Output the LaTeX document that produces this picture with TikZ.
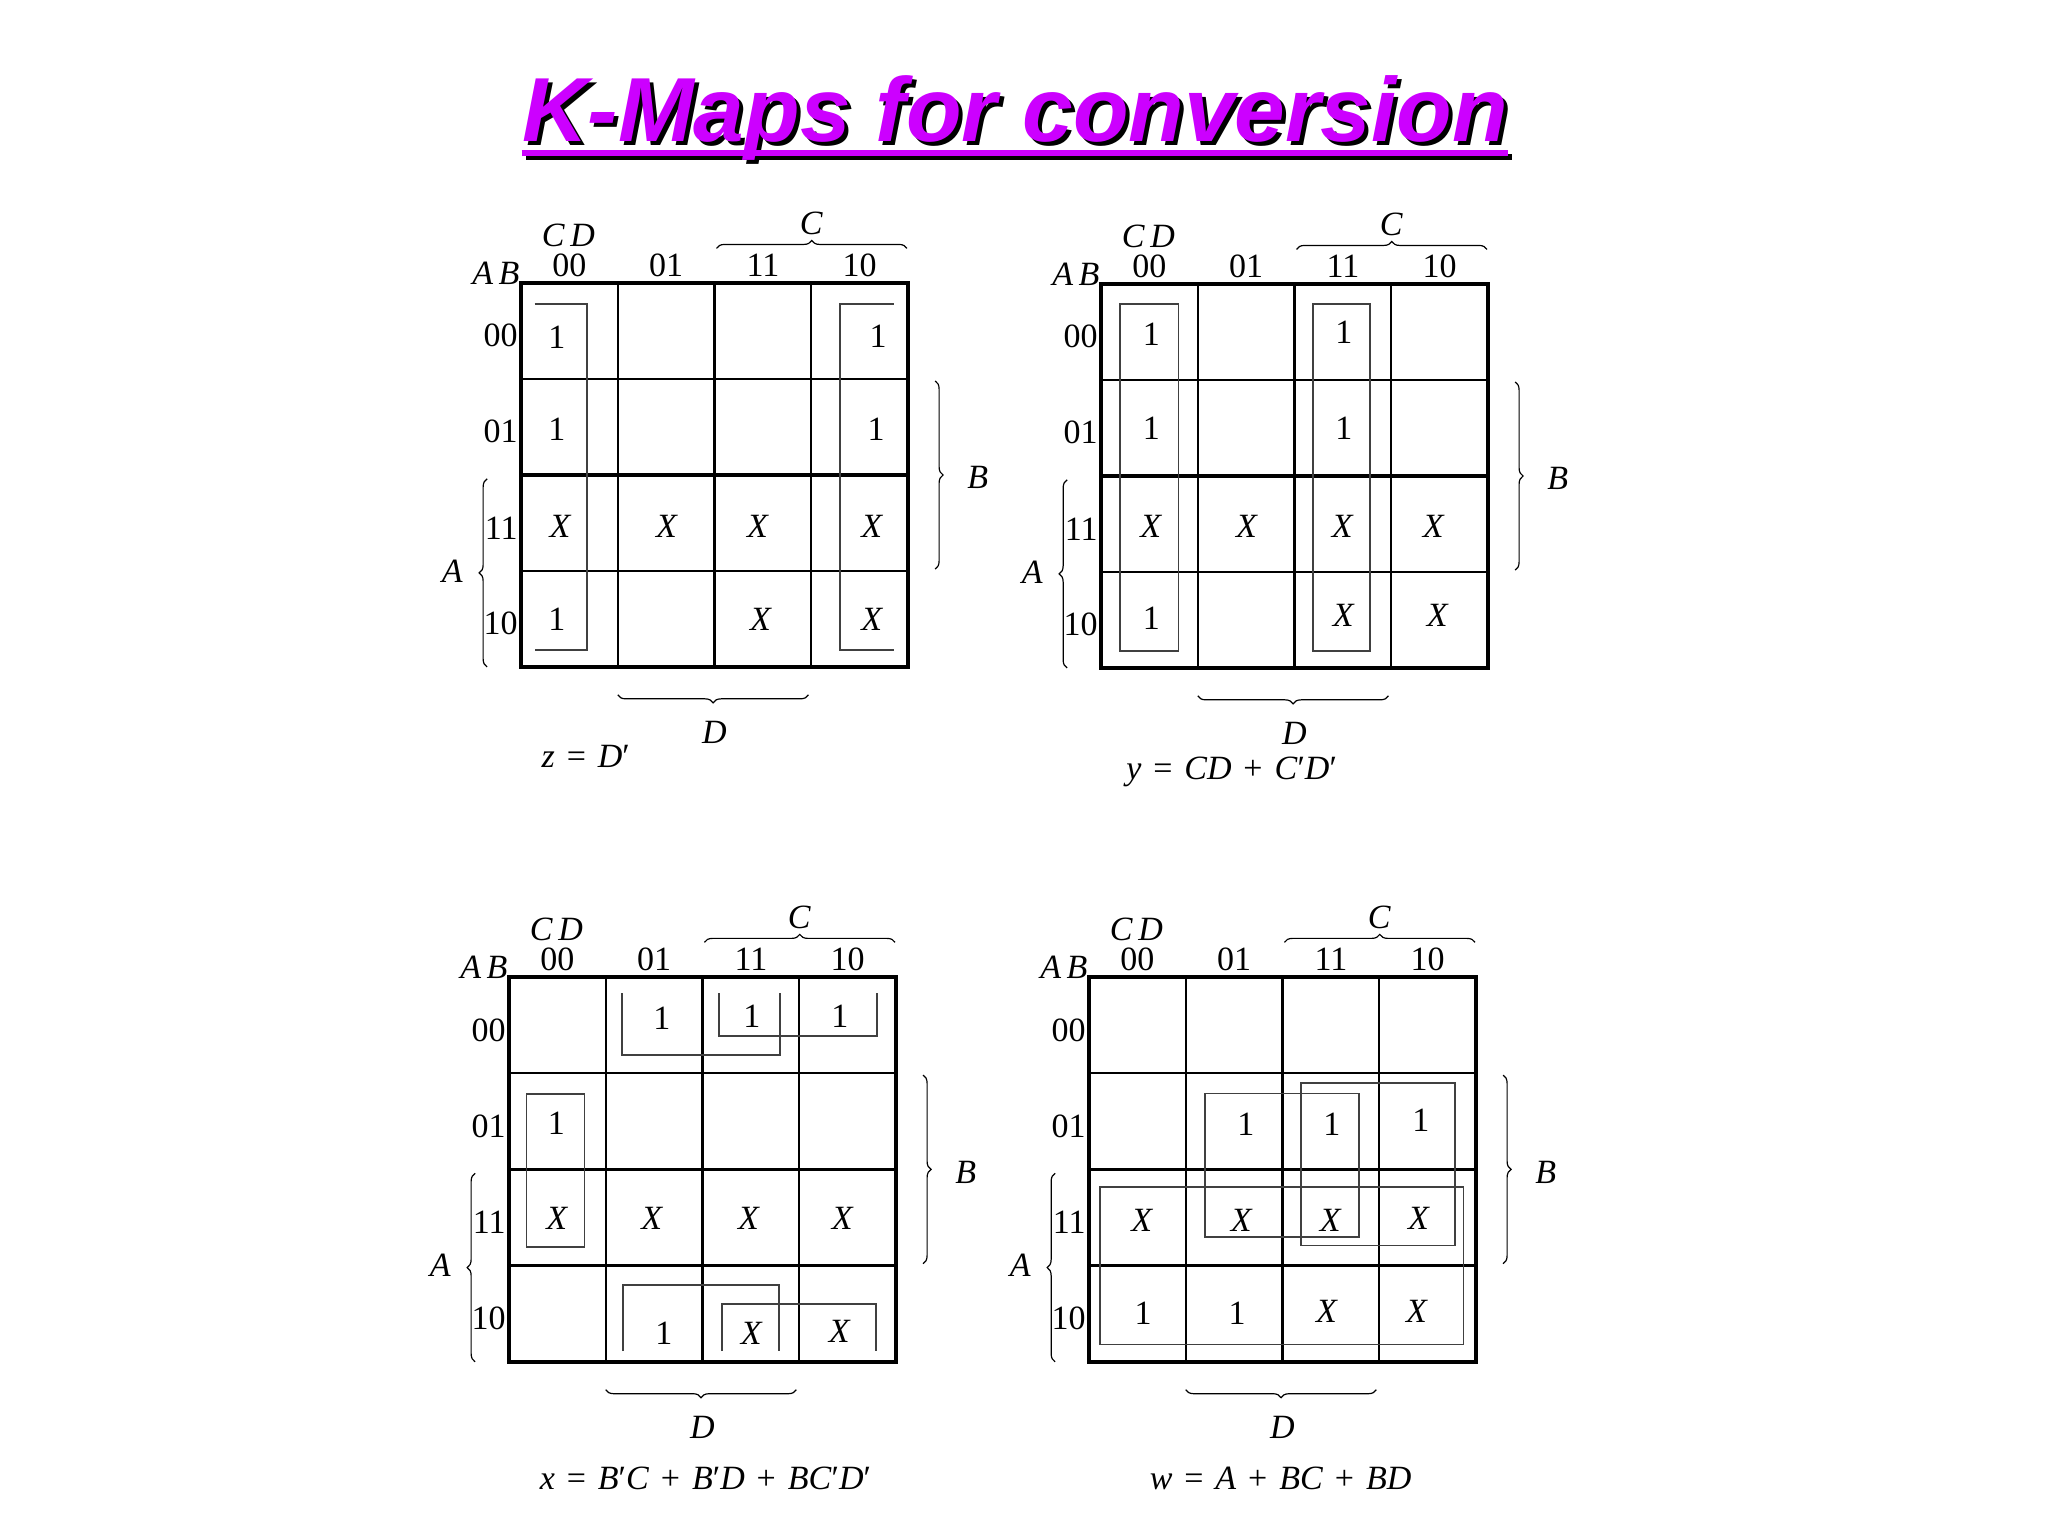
\documentclass[tikz,border=0pt]{standalone}
\usepackage{fontspec}
\setmainfont{Liberation Serif}
\newfontfamily\titlefont{Liberation Sans}
\usetikzlibrary{decorations.pathreplacing}
\definecolor{titlepurple}{RGB}{204,0,255}
\newcommand\opsp[1]{\hspace{0.35em}#1\hspace{0.35em}}
\tikzset{
  cellval/.style={font=\fontsize{17}{20}\selectfont, inner sep=0pt},
  ttl/.style={anchor=base, inner sep=0pt, font=\titlefont\bfseries\itshape\fontsize{45.5}{50}\selectfont},
  grp/.style={line width=0.9pt, black!75},
  gridline/.style={line width=1.2pt},
  brc/.style={decorate, decoration={brace, amplitude=4pt}, line width=0.6pt},
  map1/.style={shift={(521,283)}, x=48.375pt, y=-48pt},
  map2/.style={shift={(1101,284)}, x=48.375pt, y=-48pt},
  map3/.style={shift={(509,977)}, x=48.375pt, y=-48.1pt},
  map4/.style={shift={(1089,977)}, x=48.375pt, y=-48.1pt},
}

\begin{document}
\begin{tikzpicture}[x=0.5pt, y=-0.5pt]
  \useasboundingbox (0,0) rectangle (2048,1536);
  % title, black shadow under purple text
  \node[ttl, black] (ttlshadow) at (1019,145) {K-Maps for conversion};
  \draw[line width=2.6pt, black] ([yshift=-6pt]ttlshadow.base west) -- ([yshift=-6pt]ttlshadow.base east);
  \node[ttl, titlepurple] (title) at (1015,141) {K-Maps for conversion};
  \draw[line width=2.6pt, titlepurple] ([yshift=-6pt]title.base west) -- ([yshift=-6pt]title.base east);

  % frames, headings and braces of the four maps
  \foreach \m in {1,...,4} {
    \begin{scope}[map\m]
      \draw[line width=1.9pt] (0,0) rectangle (4,4);
      \foreach \i in {1,2,3} {
        \draw[gridline] (\i,0) -- (\i,4);
        \draw[gridline] (0,\i) -- (4,\i);
      }
      \node[cellval] (m\m-ab) at (-0.26,-0.1) {\textit{A\,B}};
      \node[cellval] (m\m-cd) at (0.49,-0.5) {\textit{C\,D}};
      \foreach \lbl [count=\k from 0] in {00,01,11,10} {
        \node[cellval] (m\m-col\k) at (\k+0.5,-0.18) {\lbl};
        \node[cellval, anchor=east] (m\m-row\k) at (-0.03,\k+0.55) {\lbl};
      }
      \draw[brc] (2.02,-0.36) -- (3.99,-0.36);
      \node[cellval] (m\m-c) at (3.0,-0.62) {\textit{C}};
      \draw[brc] (4.28,1.02) -- (4.28,2.98);
      \node[cellval] (m\m-b) at (4.72,2.03) {\textit{B}};
      \draw[brc] (-0.35,4.0) -- (-0.35,2.04);
      \node[cellval] (m\m-a) at (-0.71,3.0) {\textit{A}};
      \draw[brc] (2.97,4.29) -- (1.0,4.29);
      \node[cellval] (m\m-d) at (2.0,4.68) {\textit{D}};
    \end{scope}
  }

  % z = D'
  \begin{scope}[map1]
    \draw[line width=1.9pt] (0,2) -- (4,2);
    \foreach \px/\py [count=\k] in {0.37/0.57, 3.69/0.55, 0.37/1.52, 3.67/1.52, 0.37/3.5}
      \node[cellval] (m1-one\k) at (\px,\py) {1};
    \foreach \px/\py [count=\k] in {0.41/2.53, 1.51/2.53, 2.45/2.53, 3.63/2.53, 2.48/3.5, 3.63/3.5}
      \node[cellval] (m1-dc\k) at (\px,\py) {\textit{X}};
    \draw[grp] (0.14,0.22) -- (0.68,0.22) -- (0.68,3.82) -- (0.14,3.82);
    \draw[grp] (3.85,0.22) -- (3.30,0.22) -- (3.30,3.82) -- (3.85,3.82);
    \node[cellval] (m1-f) at (0.67,4.93) {\textit{z}\opsp{=}\textit{D}′};
  \end{scope}

  % y = CD + C'D'
  \begin{scope}[map2]
    \draw[line width=1.9pt] (0,2) -- (4,2);
    \foreach \px/\py [count=\k] in {0.52/0.52, 2.51/0.5, 0.52/1.5, 2.51/1.5, 0.52/3.48}
      \node[cellval] (m2-one\k) at (\px,\py) {1};
    \foreach \px/\py [count=\k] in {0.52/2.52, 1.51/2.52, 2.5/2.52, 3.44/2.52, 2.51/3.45, 3.48/3.45}
      \node[cellval] (m2-dc\k) at (\px,\py) {\textit{X}};
    \draw[grp] (0.2,0.21) rectangle (0.8,3.82);
    \draw[grp] (2.19,0.21) rectangle (2.78,3.82);
    \node[cellval] (m2-f) at (1.35,5.08) {\textit{y}\opsp{=}\textit{CD}\opsp{+}\textit{C}′\textit{D}′};
  \end{scope}

  % x = B'C + B'D + BC'D'
  \begin{scope}[map3]
    \foreach \px/\py [count=\k] in {1.58/0.43, 2.51/0.41, 3.42/0.41, 0.49/1.52, 1.6/3.7}
      \node[cellval] (m3-one\k) at (\px,\py) {1};
    \foreach \px/\py [count=\k] in {0.5/2.51, 1.48/2.51, 2.48/2.51, 3.45/2.51, 2.51/3.7, 3.42/3.68}
      \node[cellval] (m3-dc\k) at (\px,\py) {\textit{X}};
    \draw[grp] (1.17,0.17) -- (1.17,0.81) -- (2.80,0.81) -- (2.80,0.17);
    \draw[grp] (2.17,0.17) -- (2.17,0.61) -- (3.80,0.61) -- (3.80,0.17);
    \draw[grp] (0.18,1.22) rectangle (0.78,2.81);
    \draw[grp] (1.18,3.89) -- (1.18,3.20) -- (2.79,3.20) -- (2.79,3.89);
    \draw[grp] (2.20,3.89) -- (2.20,3.40) -- (3.79,3.40) -- (3.79,3.89);
    \node[cellval] (m3-f) at (2.03,5.21) {\textit{x}\opsp{=}\textit{B}′\textit{C}\opsp{+}\textit{B}′\textit{D}\opsp{+}\textit{BC}′\textit{D}′};
  \end{scope}

  % w = A + BC + BD
  \begin{scope}[map4]
    \foreach \px/\py [count=\k] in {1.62/1.53, 2.51/1.53, 3.43/1.49, 0.56/3.5, 1.53/3.5}
      \node[cellval] (m4-one\k) at (\px,\py) {1};
    \foreach \px/\py [count=\k] in {0.55/2.53, 1.58/2.53, 2.5/2.53, 3.41/2.51, 2.46/3.48, 3.39/3.48}
      \node[cellval] (m4-dc\k) at (\px,\py) {\textit{X}};
    \draw[grp] (0.11,2.18) rectangle (3.87,3.82);
    \draw[grp] (1.20,1.21) rectangle (2.79,2.70);
    \draw[grp] (2.19,1.10) rectangle (3.78,2.79);
    \node[cellval] (m4-f) at (1.98,5.21) {\textit{w}\opsp{=}\textit{A}\opsp{+}\textit{BC}\opsp{+}\textit{BD}};
  \end{scope}
\end{tikzpicture}
\end{document}
